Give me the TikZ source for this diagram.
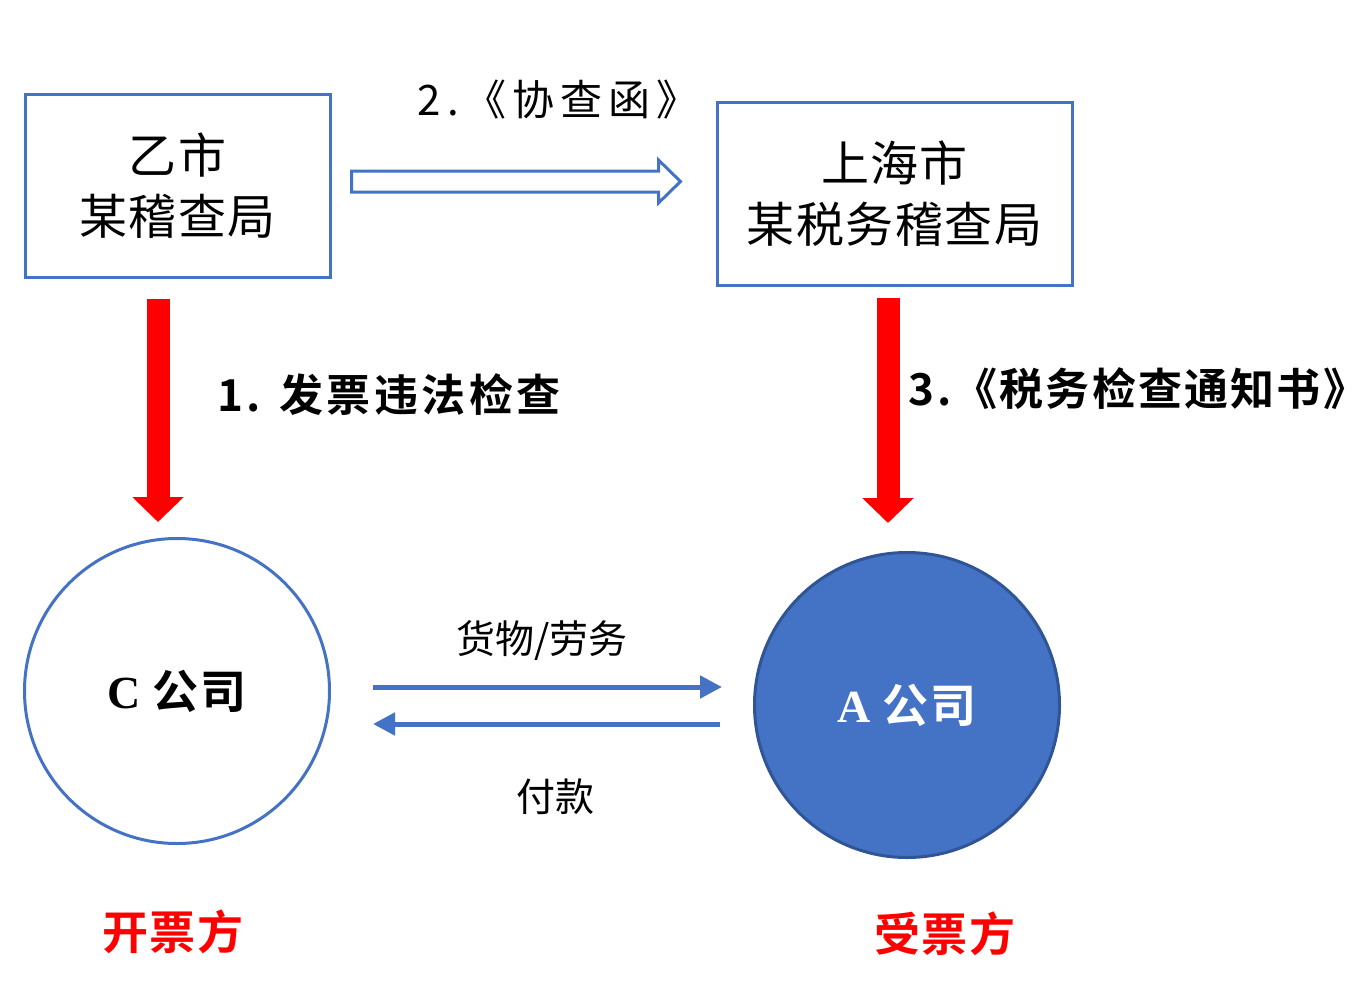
\documentclass[tikz,border=0pt]{standalone}
\usepackage{fontspec}
\setmainfont{Noto Sans CJK SC}[BoldFont={Noto Sans CJK SC Bold}]
\newfontfamily\latinserif{Liberation Serif}
\usepackage{xcolor}
\usetikzlibrary{arrows.meta, calc, positioning}
\definecolor{officeblue}{HTML}{4472C4}
\definecolor{officedark}{HTML}{2F5597}
\definecolor{alarmred}{HTML}{FF0000}
\tikzstyle{office} = [rectangle, draw=officeblue, line width=3pt, fill=white, minimum height=183pt, align=center, font=\fontsize{48}{61}\selectfont\addfontfeature{LetterSpace=3}]
\tikzstyle{firm} = [circle, draw=officeblue, line width=3pt, minimum size=305pt, font=\fontsize{46}{50}\selectfont\bfseries\addfontfeature{LetterSpace=4}]
\tikzstyle{tag} = [font=\fontsize{44}{50}\selectfont\bfseries\addfontfeature{LetterSpace=8}]
\tikzstyle{flowlabel} = [font=\fontsize{39}{44}\selectfont]
\tikzstyle{role} = [text=alarmred, font=\fontsize{46}{50}\selectfont\bfseries\addfontfeature{LetterSpace=3}]
\tikzstyle{redarrow} = [alarmred, line width=23pt, -{Triangle[length=25pt, width=50pt]}]
\tikzstyle{flow} = [officeblue, line width=5pt, -{Triangle[length=22pt, width=22pt]}]

\begin{document}
\begin{tikzpicture}[x=1pt, y=-1pt]
\useasboundingbox (0,0) rectangle (1370,998);
% offices
\node (cityY) [office, minimum width=305pt] at (177.5,185.5) {乙市\\某稽查局};
\node (shanghai) [office, minimum width=355pt] at (894.5,193.5) {上海市\\某税务稽查局};
% companies
\node (firmC) [firm, fill=white] at (177,691) {{\latinserif\bfseries C} 公司};
\node (firmA) [firm, fill=officeblue, draw=officedark, text=white] at (907,705) {{\latinserif\bfseries A} 公司};

% hollow arrow for the letter
\coordinate (letterStart) at ($(cityY.east)+(20,-4)$);
\coordinate (letterTip) at ($(shanghai.west)+(-35,-12)$);
\draw [officeblue, line width=3pt, line join=miter, fill=white]
  ($(letterStart)+(0,-10.5)$) -- ($(letterTip)+(-22,-10.5)$) -- ($(letterTip)+(-22,-21.5)$)
  -- (letterTip) -- ($(letterTip)+(-22,21.5)$) -- ($(letterTip)+(-22,10.5)$)
  -- ($(letterStart)+(0,10.5)$) -- cycle;
\node (lab2) [font=\fontsize{42}{48}\selectfont\addfontfeature{LetterSpace=14}] at (558,100) {2.《协查函》};

% inspections
\draw [redarrow] ($(cityY.south)+(-19.5,20)$) -- ($(firmC.north)+(-19,-15)$);
\draw [redarrow] ($(shanghai.south)+(-6.5,11)$) -- ($(firmA.north)+(-19,-28)$);
\node (lab1) [tag] at (389,395) {1. 发票违法检查};
\node (lab3) [tag, font=\fontsize{44}{50}\selectfont\bfseries\addfontfeature{LetterSpace=5}] at (1138,389) {3.《税务检查通知书》};

% goods and payment
\draw [flow] ($(firmC.east)+(42,-4)$) -- ($(firmA.west)+(-31,-18)$);
\draw [flow] ($(firmA.west)+(-33,19)$) -- ($(firmC.east)+(42,33)$);
\node (goods) [flowlabel] at (542,641) {货物/劳务};
\node (pay) [flowlabel] at (555,797) {付款};

% roles
\node (issuer) [role] at (173,932) {开票方};
\node (receiver) [role] at (945,934) {受票方};
\end{tikzpicture}
\end{document}
